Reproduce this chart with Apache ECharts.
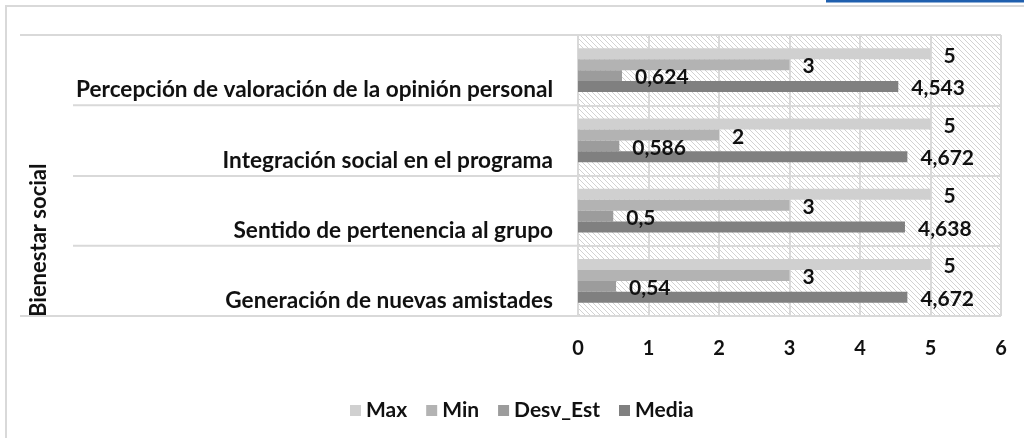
<!DOCTYPE html>
<html><head><meta charset="utf-8">
<script src="https://cdn.jsdelivr.net/npm/echarts@6/dist/echarts.min.js"></script>
<style>html,body{margin:0;padding:0;background:#fff}#c{width:1024px;height:438px}</style>
</head><body><div id="c"></div>
<script>
const categories = ['Generación de nuevas amistades', 'Sentido de pertenencia al grupo', 'Integración social en el programa', 'Percepción de valoración de la opinión personal'];
const seriesNames = ['Max', 'Min', 'Desv_Est', 'Media'];
const maxValues = [5, 5, 5, 5];
const minValues = [3, 3, 2, 3];
const desvValues = [0.54, 0.5, 0.586, 0.624];
const mediaValues = [4.672, 4.638, 4.672, 4.543];
const xTicks = [0, 1, 2, 3, 4, 5, 6];
const groupLabel = 'Bienestar social';

const colors = ['#d0d0d0', '#b3b3b3', '#9c9c9c', '#808080'];
const FONT = 'Lato';
const TXT = '#111111';

function hatch() {
  const s = 5;
  const c = document.createElement('canvas');
  c.width = s; c.height = s;
  const g = c.getContext('2d');
  g.fillStyle = '#ffffff'; g.fillRect(0, 0, s, s);
  g.strokeStyle = '#d2d2d2'; g.lineWidth = 1;
  g.beginPath();
  g.moveTo(-1, -1); g.lineTo(s + 1, s + 1);
  g.moveTo(-1, s - 1); g.lineTo(1, s + 1);
  g.moveTo(s - 1, -1); g.lineTo(s + 1, 1);
  g.stroke();
  return { image: c, repeat: 'repeat' };
}

const fmt = p => String(p.value).replace('.', ',');
const allValues = [maxValues, minValues, desvValues, mediaValues];
const lineColor = '#d9d9d9';

const chart = echarts.init(document.getElementById('c'));
chart.setOption({
  animation: false,
  backgroundColor: '#ffffff',
  textStyle: { fontFamily: FONT },
  graphic: [
    { type: 'rect', shape: { x: 6, y: 6, width: 1040, height: 460 }, style: { fill: 'none', stroke: lineColor, lineWidth: 2 }, silent: true },
    { type: 'rect', shape: { x: 826, y: 0, width: 200, height: 2.5 }, style: { fill: '#1f5fae' }, silent: true },
    { type: 'text', x: 38.5, y: 317, rotation: Math.PI / 2, style: { text: groupLabel, fontFamily: FONT, fontWeight: 'bold', fontSize: 22, fill: TXT, textAlign: 'left', textVerticalAlign: 'middle' } }
  ],
  legend: {
    data: seriesNames,
    left: 345, top: 395,
    icon: 'rect', itemWidth: 11, itemHeight: 11, itemGap: 19,
    textStyle: { fontFamily: FONT, fontWeight: 'bold', fontSize: 21, color: TXT }
  },
  grid: {
    left: 578, right: 23, top: 35, bottom: 122,
    show: true, backgroundColor: hatch(), borderWidth: 0
  },
  xAxis: {
    type: 'value', min: 0, max: 6, interval: 1,
    axisLine: { show: false }, axisTick: { show: false },
    axisLabel: { margin: 23, fontFamily: FONT, fontWeight: 'bold', fontSize: 20, color: TXT, formatter: v => String(xTicks[v]) },
    splitLine: { show: true, lineStyle: { color: lineColor, width: 2 } }
  },
  yAxis: [{
    type: 'category', data: categories,
    axisLine: { show: false },
    axisTick: { show: true, length: 505, lineStyle: { color: lineColor, width: 2 } },
    axisLabel: { margin: 25, verticalAlign: 'top', lineHeight: 40, fontFamily: FONT, fontWeight: 'bold', fontSize: 22.6, color: TXT },
    splitLine: { show: true, lineStyle: { color: lineColor, width: 2 } }
  }, {
    type: 'category', data: [groupLabel], position: 'left', offset: 505,
    axisLine: { show: false },
    axisTick: { show: true, length: 53, lineStyle: { color: lineColor, width: 2 } },
    axisLabel: { show: false },
    splitLine: { show: false }
  }],
  series: seriesNames.map((n, i) => ({
    name: n, type: 'bar', data: allValues[i], yAxisIndex: 0,
    barGap: '0%', barCategoryGap: '38%',
    itemStyle: { color: colors[i] },
    label: { show: true, position: 'right', distance: 13, offset: [0, 2], formatter: fmt, fontFamily: FONT, fontWeight: 'bold', fontSize: 21, color: TXT }
  }))
});
</script></body></html>
